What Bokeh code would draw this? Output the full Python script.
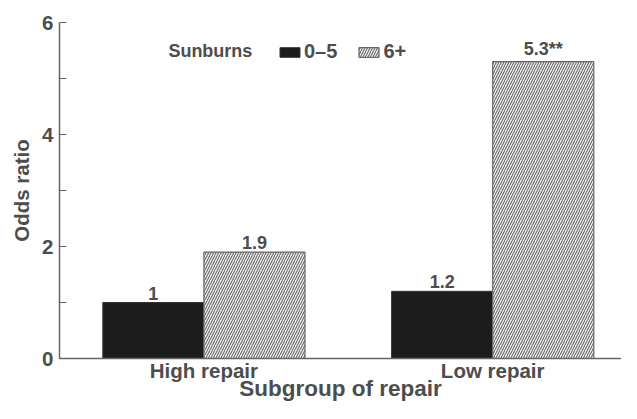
from bokeh.plotting import figure
from bokeh.models import (ColumnDataSource, Range1d, FixedTicker,
                          LabelSet, Label, Legend, LegendItem)
from bokeh.core.properties import value
from bokeh.transform import dodge
from bokeh.embed import file_html
from bokeh.resources import INLINE

# ---- data ----
categories = ["High repair", "Low repair"]
sunburns_0_5 = [1.0, 1.2]
sunburns_6_plus = [1.9, 5.3]
labels_0_5 = ["1", "1.2"]
labels_6_plus = ["1.9", "5.3**"]
series_names = ["0\u20135", "6+"]
y_ticks = [0, 2, 4, 6]
y_minor_ticks = [1, 3, 5]

FONT = "Liberation Sans"
TXT = "#4d4d4d"
AX = "#666666"

# category slots on a numeric axis: category i is centred at i + 0.5
xpos = [i + 0.5 for i in range(len(categories))]

src = ColumnDataSource(dict(x=xpos, cat=categories, a=sunburns_0_5, b=sunburns_6_plus,
                            la=labels_0_5, lb=labels_6_plus))

p = figure(width=621, height=403, x_range=Range1d(0, 1.946),
           y_range=Range1d(0, 6), output_backend="svg", toolbar_location=None,
           min_border_left=59, min_border_right=0, min_border_top=22,
           min_border_bottom=45)
p.outline_line_color = None
p.grid.grid_line_color = None

r1 = p.vbar(x=dodge("x", -0.175), top="a", width=0.35,
            source=src, fill_color="#1c1c1c", line_color="#333333", line_width=1)
r2 = p.vbar(x=dodge("x", 0.175), top="b", width=0.35,
            source=src, fill_color="#f4f4f4", line_color="#666666", line_width=1.2,
            hatch_pattern="/", hatch_color="#6a6a6a", hatch_scale=5, hatch_weight=1.1)

for col, ycol, off in (("la", "a", -0.175), ("lb", "b", 0.175)):
    ls = LabelSet(x=dodge("x", off), y=ycol,
                  text=col, source=src, y_offset=3, text_align="center",
                  text_baseline="bottom", text_font=value(FONT),
                  text_font_style="bold", text_font_size="18px", text_color=TXT)
    p.add_layout(ls)

# y axis
p.yaxis.ticker = FixedTicker(ticks=y_ticks, minor_ticks=y_minor_ticks)
p.yaxis.major_tick_in = 7
p.yaxis.major_tick_out = 0
p.yaxis.minor_tick_in = 7
p.yaxis.minor_tick_out = 0
p.yaxis.axis_label = "Odds ratio"
p.yaxis.axis_label_standoff = 6
p.yaxis.major_label_standoff = 6
p.yaxis.major_tick_line_color = AX
p.yaxis.minor_tick_line_color = AX
p.yaxis.axis_label_text_font_size = "20.5px"

# x axis: categories as tick labels
p.xaxis.ticker = FixedTicker(ticks=xpos, minor_ticks=[])
p.xaxis.major_label_overrides = {x: c for x, c in zip(xpos, categories)}
p.xaxis.axis_label = "Subgroup of repair"
p.xaxis.axis_label_standoff = -9
p.xaxis.major_label_standoff = 0
p.xaxis.major_tick_in = 0
p.xaxis.major_tick_out = 0
p.xaxis.minor_tick_in = 0
p.xaxis.minor_tick_out = 0
p.xaxis.major_tick_line_color = None
p.xaxis.minor_tick_line_color = None
p.xaxis.axis_label_text_font_size = "22.5px"

for ax in (p.xaxis[0], p.yaxis[0]):
    ax.axis_line_color = AX
    ax.axis_line_width = 1.5
    ax.major_tick_line_width = 1.2
    ax.minor_tick_line_width = 1.2
    ax.major_label_text_font = FONT
    ax.major_label_text_font_style = "bold"
    ax.major_label_text_font_size = "20.5px"
    ax.major_label_text_color = TXT
    ax.axis_label_text_font = FONT
    ax.axis_label_text_font_style = "bold"
    ax.axis_label_text_color = TXT

p.add_layout(Label(x=0.377, y=5.5, text="Sunburns", text_align="left",
                   text_baseline="middle", text_font=FONT, text_font_style="bold",
                   text_font_size="18px", text_color=TXT))

legend = Legend(items=[LegendItem(label=series_names[0], renderers=[r1]),
                       LegendItem(label=series_names[1], renderers=[r2])],
                location=(218, 295), orientation="horizontal",
                margin=0, padding=0, spacing=19, glyph_width=25, glyph_height=12,
                label_standoff=2, label_text_font=FONT, label_text_font_style="bold",
                label_text_font_size="20px", label_text_color=TXT,
                border_line_color=None, background_fill_alpha=0)
p.add_layout(legend)

open("out.html", "w").write(file_html(p, INLINE))
